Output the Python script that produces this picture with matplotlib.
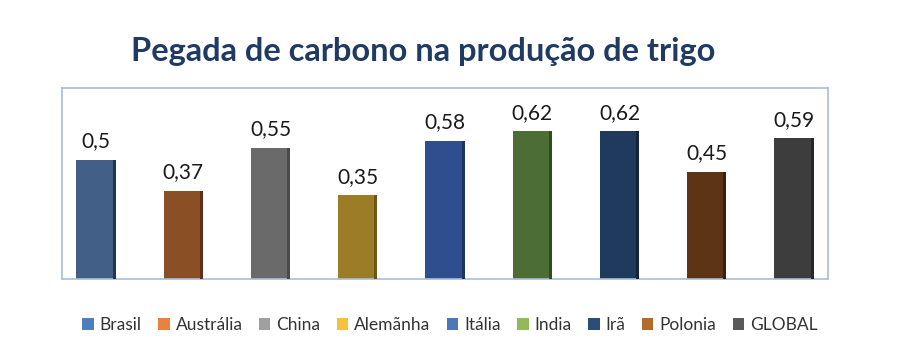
import matplotlib
matplotlib.use("Agg")
import matplotlib.pyplot as plt
from matplotlib.patches import Patch

categories = ["Brasil", "Austrália", "China", "Alemãnha", "Itália", "India", "Irã", "Polonia", "GLOBAL"]
values = [0.5, 0.37, 0.55, 0.35, 0.58, 0.62, 0.62, 0.45, 0.59]
labels = ["0,5", "0,37", "0,55", "0,35", "0,58", "0,62", "0,62", "0,45", "0,59"]
bar_colors = ["#425f87", "#8b4f26", "#6a6a6a", "#9b7c27", "#2f4e8e", "#4c6d33", "#1f3a5d", "#5d3415", "#3d3d3d"]
side_colors = ["#22354f", "#5e3216", "#4a4a4a", "#6c5618", "#1e3461", "#334b21", "#13263d", "#3c200b", "#282828"]
legend_colors = ["#4f7fbd", "#e8823c", "#a0a0a0", "#f6c23e", "#4a78bb", "#94b95a", "#2c4d7a", "#b5692a", "#5a5a5a"]

plt.rcParams['font.family'] = ['Lato', 'DejaVu Sans']
fig = plt.figure(figsize=(9, 3.57), dpi=100)
ax = fig.add_axes([0.0689, 0.2185, 0.8511, 0.535])

x = list(range(len(categories)))
w = 0.45
ax.bar(x, values, width=w, color=bar_colors, edgecolor="none", zorder=2)
side_w = 0.035
ax.bar([i + w / 2 - side_w / 2 for i in x], values, width=side_w, color=side_colors, edgecolor="none", zorder=3)

for i, (v, lab) in enumerate(zip(values, labels)):
    ax.text(i, v + 0.035, lab, ha="center", va="bottom", fontsize=15, color="#1a1a1a")

ax.set_xlim(-0.39, 8.39)
ax.set_ylim(0, 0.8)
ax.set_xticks([])
ax.set_yticks([])
for s in ax.spines.values():
    s.set_color("#a9bcd8")
    s.set_linewidth(1.2)

fig.text(0.47, 0.855, "Pegada de carbono na produção de trigo", ha="center", va="center",
         fontsize=23.5, fontweight="bold", color="#1f3a63")

handles = [Patch(facecolor=c, edgecolor="none") for c in legend_colors]
fig.legend(handles, categories, loc="center", bbox_to_anchor=(0.5, 0.09), ncol=9, frameon=False,
           fontsize=12.5, handlelength=0.65, handleheight=0.65, handletextpad=0.35, columnspacing=0.95,
           labelcolor="#333333")

fig.savefig("out.png", dpi=100)
